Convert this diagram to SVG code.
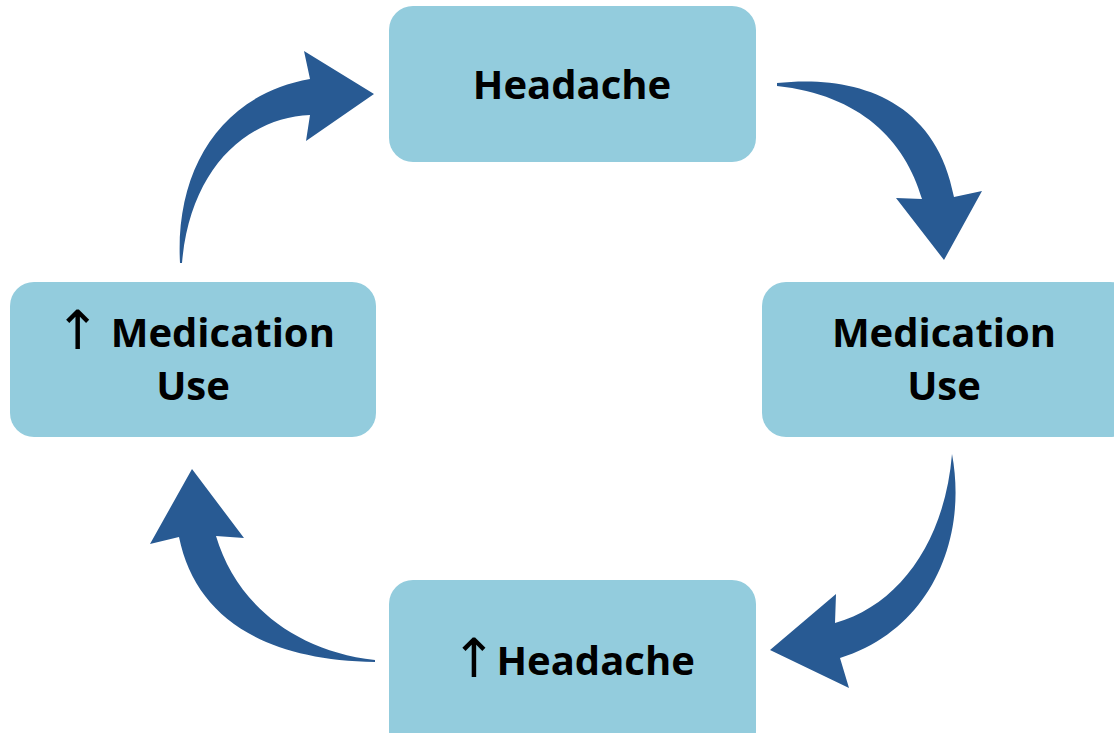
<svg xmlns="http://www.w3.org/2000/svg" width="1114" height="733" viewBox="0 0 1114 733">
<style>
.box{fill:#93CCDD;}
.lbl{font-family:"Open Sans","Noto Sans","DejaVu Sans",sans-serif;font-weight:700;font-size:40px;fill:#000;text-anchor:middle;}
.up{font-family:"DejaVu Sans",sans-serif;font-weight:400;font-size:54px;}
.arr{fill:#285A93;}
</style>
<rect width="1114" height="733" fill="#fff"/>
<g id="connectors">
<path class="arr" d="M180,263 C175,170 220,95 310,79 L304,51 L374,94 L306,141 L310,115 C245,118 190,170 182,263 Z"/>
<path class="arr" d="M777,83 C850,75 935,95 954,197 L982,191 L944,260 L896,198 L922,199 C905,140 860,95 777,86 Z"/>
<path class="arr" d="M952,454 C968,540 930,630 840,658 L849,688 L770,650 L836,594 L835,623 C900,605 945,540 952,454 Z"/>
<path class="arr" d="M375,662 C260,660 195,615 179,537 L150,544 L192,469 L244,538 L216,536 C235,600 290,650 375,660 Z"/>
</g>
<g id="node-headache">
<rect class="box" x="389" y="6" width="367" height="156" rx="24"/>
<text class="lbl" x="572" y="99">Headache</text>
</g>
<g id="node-medication-use">
<rect class="box" x="762" y="282" width="372" height="155" rx="24"/>
<text class="lbl" x="944" y="347">Medication</text>
<text class="lbl" x="944" y="400">Use</text>
</g>
<g id="node-inc-headache">
<rect class="box" x="389" y="580" width="367" height="175" rx="24"/>
<text class="lbl" x="573" y="675"><tspan class="up" dy="2">↑</tspan><tspan dy="-2">Headache</tspan></text>
</g>
<g id="node-inc-medication-use">
<rect class="box" x="10" y="282" width="366" height="155" rx="24"/>
<text class="lbl" x="195" y="347"><tspan class="up" dy="2">↑</tspan><tspan dy="-2"> Medication</tspan></text>
<text class="lbl" x="193" y="400">Use</text>
</g>
</svg>
